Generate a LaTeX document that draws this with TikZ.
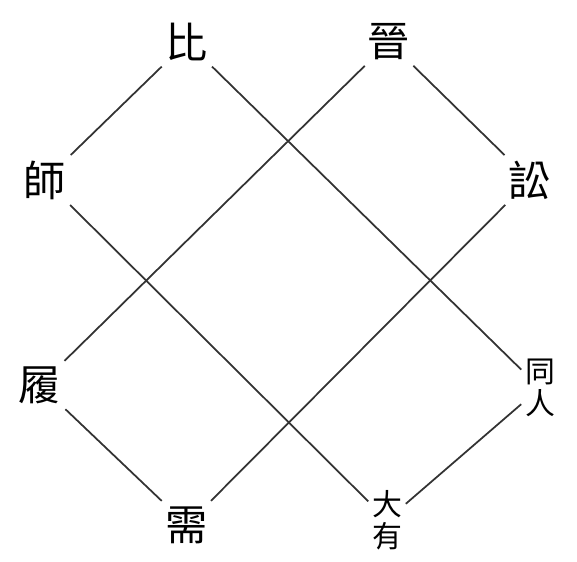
\documentclass[tikz,border=0pt]{standalone}
\usepackage{fontspec}
\newfontfamily\cjk{Noto Sans CJK TC}
\usetikzlibrary{
    positioning
}
\tikzset{
    gua/.style={
        font=\cjk\fontsize{24}{24}\selectfont,
        inner sep=3pt
    },
    guados/.style={
        font=\cjk\fontsize{17}{18}\selectfont,
        align=center,
        inner sep=2pt
    },
    linea/.style={
        draw=black!80,
        line width=1pt
    }
}
\begin{document}
\begin{tikzpicture}[
    x=0.02cm,
    y=-0.02cm
]
    \useasboundingbox (0,0) rectangle (577,561);

    % Fila superior
    \node[gua]    (bi)     at (187,42)  {比};
    \node[gua]    (jin)    at (389,42)  {晉};

    % Fila media
    \node[gua]    (shi)    at (45,180)  {師};
    \node[gua]    (song)   at (530,180) {訟};

    % Fila inferior
    \node[gua]    (lv)     at (40,385)  {履};
    \node[guados] (tongren) at (540,388) {同\\人};

    % Base
    \node[gua]    (xu)     at (187,525) {需};
    \node[guados] (dayou)  at (387,520) {大\\有};

    % Lineas
    \path[linea]
        (bi)
            edge (shi)
            edge (tongren)
        (jin)
            edge (song)
            edge (lv)
        (shi)
            edge (dayou)
        (song)
            edge (xu)
        (lv)
            edge (xu)
        (tongren)
            edge (dayou);

\end{tikzpicture}
\end{document}
